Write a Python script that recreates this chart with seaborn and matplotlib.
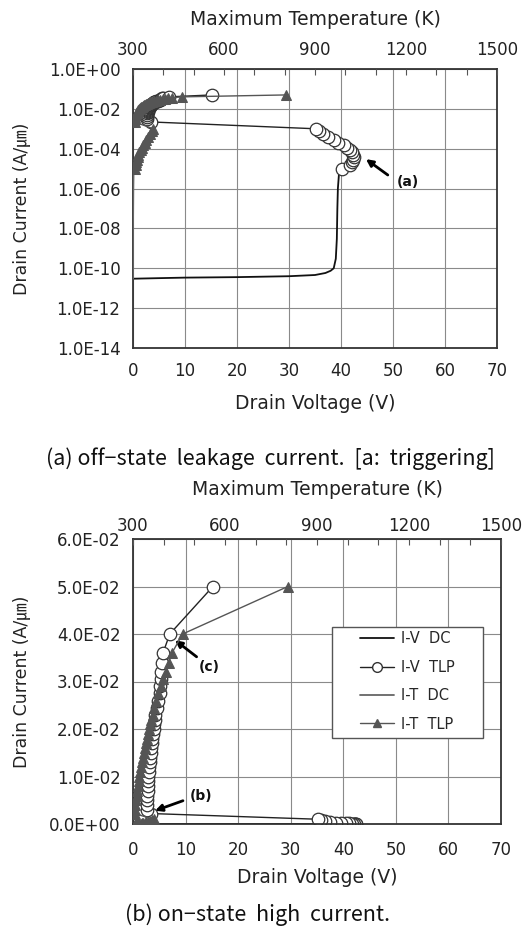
import numpy as np
import matplotlib
matplotlib.use('Agg')
import matplotlib.pyplot as plt
import seaborn as sns
from matplotlib.ticker import FuncFormatter, MultipleLocator, NullLocator
from matplotlib.lines import Line2D
from matplotlib.patches import Rectangle

# --- data ---
# I-V DC sweep (drain voltage V, current A/um)
iv_dc_v = [0, 5, 10, 20, 30, 35, 37, 38, 38.6, 39.0, 39.2, 39.3, 39.4, 39.6, 40.1]
iv_dc_i = [3.0e-11, 3.2e-11, 3.4e-11, 3.6e-11, 4.0e-11, 4.6e-11, 5.8e-11, 7.5e-11, 1.0e-10,
           3.0e-10, 3.0e-9, 1.0e-7, 1.0e-6, 5.0e-6, 1.0e-5]

# I-V TLP (circles): triggering branch, then snapback branch
iv_tlp_v = [40.1, 41.8, 42.2, 42.3, 42.5, 42.4, 42.1, 41.7, 41.1, 40.5, 39.5, 38.6,
            37.5, 36.5, 35.8, 35.2,
            3.5, 2.6, 2.6, 2.7, 2.7, 2.8, 2.8, 2.9, 2.9, 3.0, 3.1, 3.2, 3.3, 3.4,
            3.5, 3.6, 3.7, 3.8, 3.9, 4.0, 4.1, 4.2, 4.5, 4.8, 5.1, 5.2, 5.3, 5.4,
            5.5, 5.7, 7.0, 15.2]
iv_tlp_i = [1.0e-5, 1.5e-5, 2.1e-5, 2.8e-5, 3.8e-5, 5.0e-5, 6.5e-5, 8.5e-5, 1.1e-4,
            1.5e-4, 2.0e-4, 2.8e-4, 4.0e-4, 5.5e-4, 7.5e-4, 1.0e-3,
            2.2e-3, 3.0e-3, 4.0e-3, 5.0e-3, 6.0e-3, 7.0e-3, 8.0e-3, 9.0e-3, 1.0e-2,
            1.1e-2, 1.2e-2, 1.3e-2, 1.4e-2, 1.5e-2, 1.6e-2, 1.7e-2, 1.8e-2, 1.9e-2,
            2.0e-2, 2.1e-2, 2.2e-2, 2.3e-2, 2.45e-2, 2.6e-2, 2.75e-2, 2.9e-2, 3.05e-2,
            3.2e-2, 3.4e-2, 3.6e-2, 4.0e-2, 5.0e-2]

# I-T DC (max temperature K)
it_dc_t = [300, 300, 300, 301, 302]
it_dc_i = [3.0e-11, 1.0e-10, 1.0e-8, 1.0e-6, 1.0e-5]

# I-T TLP (triangles)
it_tlp_t = [307, 309, 311, 313, 315, 318, 321, 325, 329, 334, 339, 344, 350, 356, 362, 367,
            305, 306, 308, 310, 312, 314, 316, 318, 320, 323, 326, 329, 332, 336, 339,
            342, 346, 350, 353, 356, 360, 364, 370, 376, 382, 390, 398, 406, 416, 427,
            462, 805]
it_tlp_i = iv_tlp_i

log_ticks = [1e-14, 1e-12, 1e-10, 1e-8, 1e-6, 1e-4, 1e-2, 1e0]
lin_ticks = [0.0, 0.01, 0.02, 0.03, 0.04, 0.05, 0.06]
legend_labels = ['I-V  DC', 'I-V  TLP', 'I-T  DC', 'I-T  TLP']

sns.set_theme(style="whitegrid")
plt.rcParams['font.family'] = ['DejaVu Sans', 'Noto Sans CJK KR']
plt.rcParams['axes.unicode_minus'] = False

DARK = '#222222'
GRID = '#8a8a8a'
TLP_GRAY = '#555555'

fmt = FuncFormatter(lambda v, p: f"{v:.1E}")


def draw_panel(ax, log, bot_pad, bot_labelpad, top_pad, top_labelpad):
    if log:
        ax.set_yscale('log')
    sns.lineplot(x=iv_dc_v, y=iv_dc_i, ax=ax, color='#111111', lw=1.3,
                 sort=False, estimator=None)
    sns.lineplot(x=iv_tlp_v, y=iv_tlp_i, ax=ax, color='#222222', lw=1.0,
                 marker='o', markersize=9, markerfacecolor='white',
                 markeredgecolor='#333333', markeredgewidth=0.9,
                 sort=False, estimator=None)
    ax.set_xlim(0, 70)
    if log:
        ax.set_ylim(1e-14, 1)
        ax.set_yticks(log_ticks)
        ax.yaxis.set_minor_locator(NullLocator())
    else:
        ax.set_ylim(0, 0.06)
        ax.set_yticks(lin_ticks)
    ax.yaxis.set_major_formatter(fmt)
    ax.xaxis.set_major_locator(MultipleLocator(10))
    ax.grid(True, color=GRID, lw=0.8)
    ax.tick_params(axis='y', length=0, labelsize=12, colors=DARK, pad=9)
    ax.tick_params(axis='x', length=0, labelsize=12, colors=DARK, pad=bot_pad)
    ax.set_xlabel('Drain Voltage (V)', fontsize=13.5, color=DARK, labelpad=bot_labelpad)
    ax.set_ylabel('Drain Current (A/㎛)', fontsize=12.5, color=DARK, labelpad=13)
    for s in ax.spines.values():
        s.set_color('#333333')
        s.set_linewidth(1.3)

    axt = ax.twiny()
    sns.lineplot(x=it_dc_t, y=it_dc_i, ax=axt, color='#666666', lw=1.3,
                 sort=False, estimator=None)
    sns.lineplot(x=it_tlp_t, y=it_tlp_i, ax=axt, color=TLP_GRAY, lw=1.0,
                 marker='^', markersize=6.5, markerfacecolor=TLP_GRAY,
                 markeredgecolor=TLP_GRAY, sort=False, estimator=None)
    axt.set_xlim(300, 1500)
    axt.xaxis.set_major_locator(MultipleLocator(300))
    axt.xaxis.set_minor_locator(MultipleLocator(100))
    axt.grid(False)
    axt.tick_params(axis='x', which='major', direction='in', length=4,
                    width=0.8, color='#555555', labelsize=12, colors=DARK, pad=top_pad)
    axt.tick_params(axis='x', which='minor', direction='in', length=4,
                    width=0.8, color='#555555')
    axt.set_xlabel('Maximum Temperature (K)', fontsize=13.5, color=DARK,
                   labelpad=top_labelpad)
    axt.set_ylabel('')
    for s in axt.spines.values():
        s.set_visible(False)
    if log:
        ax.set_ylim(1e-14, 1)
    else:
        ax.set_ylim(0, 0.06)
    return axt


fig = plt.figure(figsize=(5.29, 9.31), dpi=100)
ax_a = fig.add_axes([133 / 529, 1 - 348 / 931, 364 / 529, 279 / 931])
ax_b = fig.add_axes([133 / 529, 1 - 824 / 931, 368 / 529, 285 / 931])

draw_panel(ax_a, log=True, bot_pad=10, bot_labelpad=10, top_pad=7, top_labelpad=12)
draw_panel(ax_b, log=False, bot_pad=12, bot_labelpad=7, top_pad=3, top_labelpad=16)

# annotations
arrow = dict(arrowstyle='-|>', lw=2.0, color='black', mutation_scale=10, shrinkA=0, shrinkB=0)
ax_a.annotate('', xy=(44.8, 3.0e-5), xytext=(49.0, 4.8e-6), arrowprops=arrow)
ax_a.text(50.8, 2.1e-6, '(a)', fontsize=10, fontweight='bold', ha='left', va='center', color='#111111')

ax_b.annotate('', xy=(8.0, 0.0387), xytext=(12.1, 0.0352), arrowprops=arrow)
ax_b.text(12.5, 0.033, '(c)', fontsize=10, fontweight='bold', ha='left', va='center', color='#111111')

ax_b.annotate('', xy=(4.2, 0.0028), xytext=(9.5, 0.0049), arrowprops=arrow)
ax_b.text(10.7, 0.006, '(b)', fontsize=10, fontweight='bold', ha='left', va='center', color='#111111')

# legend: frameless legend inside a drawn box
box = Rectangle((0.541, 0.302), 0.410, 0.389, transform=ax_b.transAxes,
                facecolor='white', edgecolor='#555555', lw=1.0, zorder=9)
ax_b.add_patch(box)
handles = [
    Line2D([], [], color='#111111', lw=1.3),
    Line2D([], [], color='#222222', lw=1.0, marker='o', markersize=7,
           markerfacecolor='white', markeredgecolor='#333333'),
    Line2D([], [], color='#666666', lw=1.3),
    Line2D([], [], color=TLP_GRAY, lw=1.0, marker='^', markersize=6,
           markerfacecolor=TLP_GRAY, markeredgecolor=TLP_GRAY),
]
leg = ax_b.legend(handles, legend_labels, loc='upper left', bbox_to_anchor=(0.617, 0.676),
                  fontsize=10.5, frameon=False, handlelength=2.3, handletextpad=0.5,
                  labelspacing=0.92, borderpad=0, borderaxespad=0)
leg.set_zorder(10)

# captions
cap_font = ['Noto Sans CJK KR', 'DejaVu Sans']
fig.text(270 / 529, 1 - 459 / 931, '(a) off\u2212state  leakage  current.  [a:  triggering]',
         ha='center', va='center', fontsize=15.5, family=cap_font, color='#111111')
fig.text(258 / 529, 1 - 915 / 931, '(b) on\u2212state  high  current.',
         ha='center', va='center', fontsize=15.5, family=cap_font, color='#111111')

fig.savefig('out.png', dpi=100, facecolor='white')
